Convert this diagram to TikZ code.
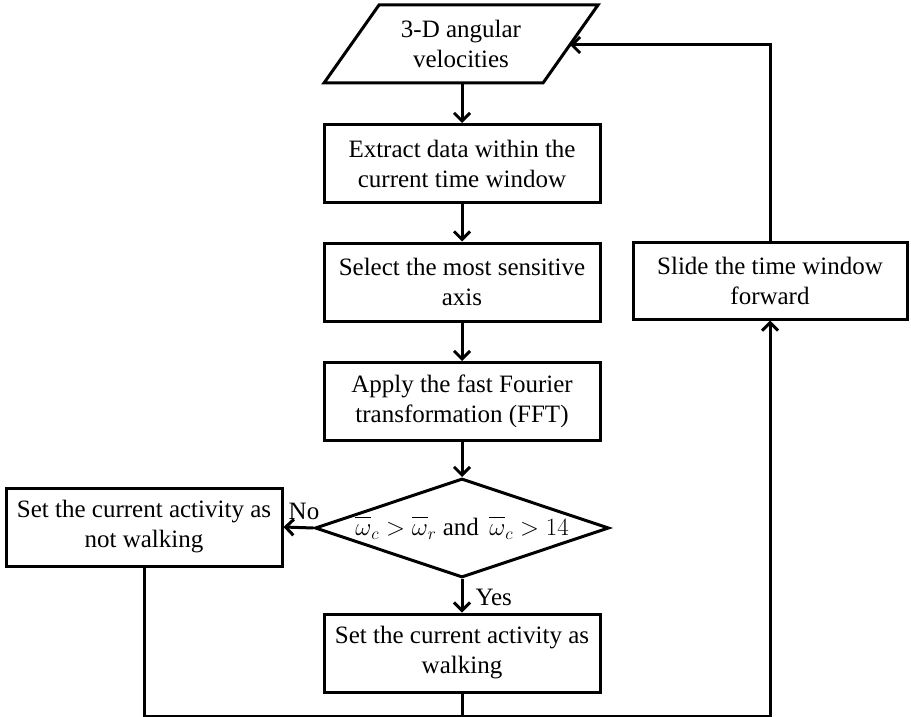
\documentclass[tikz,border=0pt]{standalone}
\usepackage{fontspec}
\setmainfont{Liberation Serif}
\usetikzlibrary{arrows.meta,shapes.geometric}
\tikzset{
  stepbox/.style={draw, rectangle, line width=3pt, minimum width=276pt,
    minimum height=78pt, align=center, inner sep=0pt,
    font=\fontsize{25}{30}\selectfont},
  plain/.style={align=center, inner sep=0pt, font=\fontsize{25}{30}\selectfont},
  flow/.style={line width=3pt, -{Straight Barb[length=8pt,width=16pt,line width=3pt]}, line join=miter},
  link/.style={line width=3pt, line join=miter}
}
\newcommand{\wbar}{\overline{\vphantom{b}\omega}}
\begin{document}
\begin{tikzpicture}[x=1pt,y=-1pt,line width=3pt]
\useasboundingbox (0,0) rectangle (911,717);

% input parallelogram
\coordinate (p1) at (379,5);
\coordinate (p2) at (598,5);
\coordinate (p3) at (543,83);
\coordinate (p4) at (324,83);
\draw[link] (p1) -- (p2) -- (p3) -- (p4) -- cycle;
\node[plain] (para) at (461,44) {3-D angular\\velocities};
\coordinate (parabot) at (462,83);
\coordinate (pararight) at (570,45);

% processing steps
\node[stepbox] (extract) at (462,163.5) {Extract data within the\\current time window};
\node[stepbox] (select) at (462,282) {Select the most sensitive\\axis};
\node[stepbox] (fft) at (462,401.5) {Apply the fast Fourier\\transformation (FFT)};

% decision
\node[draw, diamond, line width=3pt, minimum width=294pt, minimum height=99pt,
  inner sep=0pt] (dec) at (462,528) {};
\node[plain] (dectext) at (462,528)
  {$\wbar_c > \wbar_r$ and\, $\wbar_c > 14$};

% outcomes
\node[stepbox] (notwalk) at (144,527) {Set the current activity as\\not walking};
\node[stepbox] (walk) at (462,653) {Set the current activity as\\walking};
\node[stepbox, minimum width=274pt, minimum height=77pt] (slide) at (770,280.5)
  {Slide the time window\\forward};

% loop-back route
\coordinate (bl) at (144,716);
\coordinate (bm) at (462,716);
\coordinate (br) at (770,716);
\coordinate (tr) at (770,45);

% connectors
\draw[flow] (parabot) -- (extract.north);
\draw[flow] (extract) -- (select);
\draw[flow] (select) -- (fft);
\draw[flow] (fft) -- (dec.north);
\draw[flow] (dec.west) -- (notwalk.east);
\draw[flow] (dec.south) -- (walk.north);
\draw[link] (walk.south) -- (bm);
\draw[flow] (notwalk.south) -- (bl) -- (br) -- (slide.south);
\draw[flow] (slide.north) -- (tr) -- (pararight);

% branch labels
\node[plain, anchor=south] (nolabel) at (304,521) {No};
\node[plain, anchor=west] (yeslabel) at (474,597) {Yes};
\end{tikzpicture}
\end{document}
